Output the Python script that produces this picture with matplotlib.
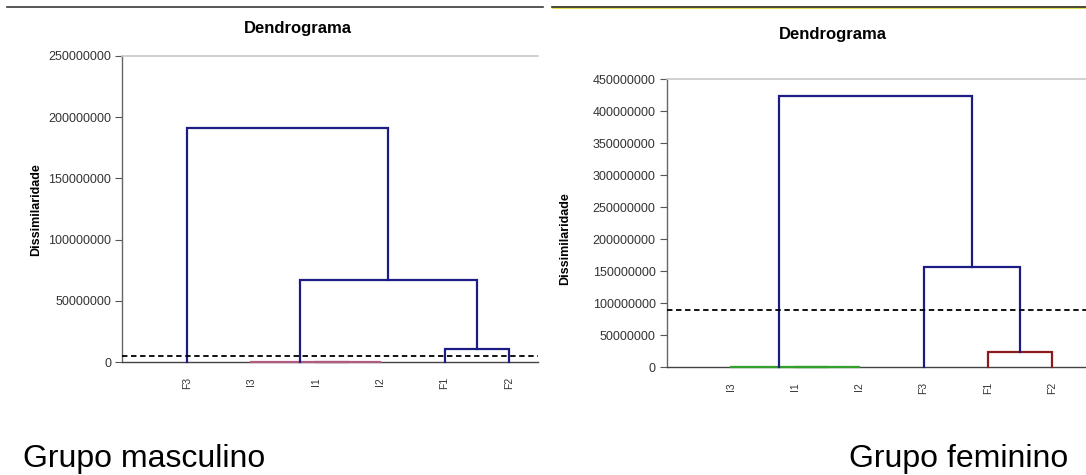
import numpy as np
import matplotlib
matplotlib.use("Agg")
import matplotlib.pyplot as plt
from matplotlib.lines import Line2D

plt.rcParams['font.family'] = ['Liberation Sans', 'DejaVu Sans']

# data (heights in dissimilarity units)
masc_leaves = ['F3', 'I3', 'I1', 'I2', 'F1', 'F2']
masc_merges = [(2, 3), (1, 6), (4, 5), (7, 8), (0, 9)]   # node ids, new node = 6 + k
masc_heights = [0.1e6, 0.2e6, 10.9e6, 66.8e6, 191.3e6]
masc_groups = ['low', 'low', 'high', 'high', 'high']
masc_cut = 5.2e6
masc_yticks = [0, 50000000, 100000000, 150000000, 200000000, 250000000]

fem_leaves = ['I3', 'I1', 'I2', 'F3', 'F1', 'F2']
fem_merges = [(1, 2), (0, 6), (4, 5), (3, 8), (7, 9)]
fem_heights = [0.3e6, 0.5e6, 24.4e6, 156.6e6, 423.0e6]
fem_groups = ['g1', 'g1', 'g2', 'high', 'high']
fem_cut = 89.4e6
fem_yticks = [0, 50000000, 100000000, 150000000, 200000000, 250000000,
              300000000, 350000000, 400000000, 450000000]

group_colors = {'high': '#1c1c86', 'low': '#b05c82', 'g1': '#33a02c', 'g2': '#8e1b1b'}


def draw_dendrogram(ax, leaves, merges, heights, groups, cut, yticks, xmax):
    """Draw U shaped links from a merge list, leaves at x = 0..n-1."""
    n = len(leaves)
    pos = list(range(n))
    hgt = [0.0] * n
    for (a, b), h, g in zip(merges, heights, groups):
        xa, xb = pos[a], pos[b]
        ax.plot([xa, xa, xb, xb], [hgt[a], h, h, hgt[b]], color=group_colors[g],
                lw=1.6, solid_joinstyle='miter', clip_on=False, zorder=3)
        pos.append((xa + xb) / 2.0)
        hgt.append(h)

    ax.axhline(cut, color='black', lw=1.3, ls=(0, (3, 2)), zorder=4, clip_on=False)

    ax.set_xlim(-1, xmax)
    ax.set_ylim(0, yticks[-1])
    ax.set_yticks(yticks)
    ax.set_yticklabels([str(t) for t in yticks], fontsize=9, color='#333333')
    ax.tick_params(axis='y', length=5, width=0.8, color='#555555', pad=3)
    ax.set_xticks(range(n))
    ax.set_xticklabels(leaves, rotation=90, fontsize=7.5, color='#333333')
    ax.tick_params(axis='x', length=0, pad=10.5)
    ax.spines['right'].set_visible(False)
    ax.spines['top'].set_color('#c8c8c8')
    ax.spines['top'].set_linewidth(1.2)
    ax.spines['left'].set_color('#666666')
    ax.spines['bottom'].set_color('#444444')
    ax.spines['left'].set_linewidth(1.0)
    ax.spines['bottom'].set_linewidth(1.0)


W, H = 1086, 475
fig = plt.figure(figsize=(W / 100, H / 100), dpi=100)

ax1 = fig.add_axes([122.3 / W, 1 - 362.3 / H, 415.4 / W, 306.6 / H])
draw_dendrogram(ax1, masc_leaves, masc_merges, masc_heights, masc_groups,
                masc_cut, masc_yticks, 5.445)

ax2 = fig.add_axes([666.7 / W, 1 - 367.3 / H, 419.3 / W, 288.3 / H])
draw_dendrogram(ax2, fem_leaves, fem_merges, fem_heights, fem_groups,
                fem_cut, fem_yticks, 5.53)

# titles and axis labels
fig.text(297.5 / W, 1 - 28.3 / H, 'Dendrograma', ha='center', va='center',
         fontsize=12, fontweight='bold')
fig.text(833.3 / W, 1 - 34.3 / H, 'Dendrograma', ha='center', va='center',
         fontsize=12, fontweight='bold')
fig.text(35.7 / W, 1 - 210 / H, 'Dissimilaridade', rotation=90, ha='center',
         va='center', fontsize=9, fontweight='bold')
fig.text(564.7 / W, 1 - 239 / H, 'Dissimilaridade', rotation=90, ha='center',
         va='center', fontsize=9, fontweight='bold')

# separator lines on top
fig.add_artist(Line2D([7 / W, 543 / W], [1 - 7 / H, 1 - 7 / H], color='#3a3a3a', lw=1.2))
fig.add_artist(Line2D([552 / W, 1], [1 - 7 / H, 1 - 7 / H], color='#2a2a10', lw=1.2))
fig.add_artist(Line2D([552 / W, 1], [1 - 8.2 / H, 1 - 8.2 / H], color='#d8d830', lw=0.6))

# group captions
fig.text(23 / W, 1 - 467 / H, 'Grupo masculino', ha='left', va='baseline', fontsize=23)
fig.text(1068 / W, 1 - 467 / H, 'Grupo feminino', ha='right', va='baseline', fontsize=23)

fig.savefig('out.png', dpi=100, facecolor='white')
